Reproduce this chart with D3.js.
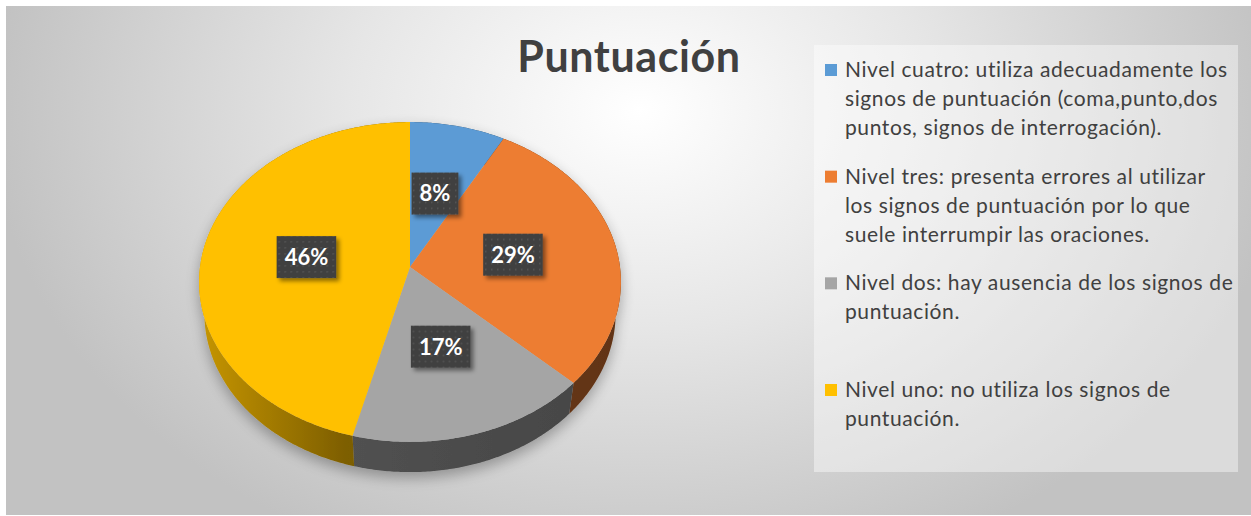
<!DOCTYPE html>
<html>
<head>
<meta charset="utf-8" />
<title>Puntuación</title>
<script src="https://cdn.jsdelivr.net/npm/d3@7/dist/d3.min.js"></script>
<style>
body { margin: 0; background: #fff; }
svg { display: block; font-family: Lato, "Noto Sans", sans-serif; }
</style>
</head>
<body>
<div id="chart"></div>
<script>
// data
const categories = ["Nivel cuatro", "Nivel tres", "Nivel dos", "Nivel uno"];
const values = [8, 29, 17, 46];
const colors = ["#5b9bd5", "#ed7d31", "#a5a5a5", "#ffc000"];
const legendLines = [
	["Nivel cuatro: utiliza adecuadamente los", "signos de puntuación (coma,punto,dos", "puntos, signos de interrogación)."],
	["Nivel tres: presenta errores al utilizar", "los signos de puntuación por lo que", "suele interrumpir las oraciones."],
	["Nivel dos: hay ausencia de los signos de", "puntuación."],
	["Nivel uno: no utiliza los signos de", "puntuación."]
];
const title = "Puntuación";

const width = 1251, height = 516;

const svg = d3.select("#chart").append("svg")
	.attr("width", width)
	.attr("height", height);

const defs = svg.append("defs");

// chart area background
const bg = defs.append("radialGradient")
	.attr("id", "bg")
	.attr("gradientUnits", "userSpaceOnUse")
	.attr("cx", 640).attr("cy", 110).attr("r", 650)
	.attr("gradientTransform", "translate(640,110) scale(1,0.75) translate(-640,-110)");
bg.append("stop").attr("offset", 0).attr("stop-color", "#ffffff");
bg.append("stop").attr("offset", 0.45).attr("stop-color", "#e6e6e6");
bg.append("stop").attr("offset", 1).attr("stop-color", "#c2c2c2");

svg.append("rect")
	.attr("x", 6).attr("y", 6)
	.attr("width", width - 6).attr("height", 509)
	.attr("fill", "url(#bg)");

// 3d pie: perspective projection of a flat disc
const cx = 410, cy = 267;
const F = 1470, D = 7.0, tilt = 49 * Math.PI / 180;
const cs = Math.cos(tilt), sn = Math.sin(tilt);
const thick = 0.237;

function project(a, r, h) {
	const X = r * Math.sin(a), Z = r * Math.cos(a);
	const depth = D + Z * cs - h * sn;
	const vert = Z * sn + h * cs;
	return [cx + F * X / depth, cy - F * vert / depth];
}

function arcPoints(a0, a1, h) {
	const n = Math.max(2, Math.ceil(Math.abs(a1 - a0) / 0.01));
	return d3.range(n + 1).map(i => project(a0 + (a1 - a0) * i / n, 1, h));
}

const arcs = d3.pie().sort(null).value(d => d)(values);
const line = d3.line();

// side gradients
const xs = d3.scaleLinear().domain([0, 1]).range([198, 622]);
colors.forEach(function(c, i) {
	const g = defs.append("linearGradient")
		.attr("id", "side" + i)
		.attr("gradientUnits", "userSpaceOnUse")
		.attr("x1", xs(0)).attr("x2", xs(1)).attr("y1", 0).attr("y2", 0);
	[[0, 0.7], [0.35, 2.0], [1, 2.5]].forEach(function(s) {
		g.append("stop").attr("offset", s[0]).attr("stop-color", d3.color(c).darker(s[1]).formatHex());
	});
});

const shadow = defs.append("filter").attr("id", "pieShadow")
	.attr("x", "-20%").attr("y", "-20%").attr("width", "140%").attr("height", "140%");
shadow.append("feGaussianBlur").attr("in", "SourceAlpha").attr("stdDeviation", 7).attr("result", "b");
shadow.append("feOffset").attr("dy", 6).attr("result", "o");
shadow.append("feComponentTransfer").append("feFuncA").attr("type", "linear").attr("slope", 0.3);
const sm = shadow.append("feMerge");
sm.append("feMergeNode");
sm.append("feMergeNode").attr("in", "SourceGraphic");

const pie = svg.append("g").attr("filter", "url(#pieShadow)");

// walls first
pie.selectAll("path.side")
	.data(arcs)
	.join("path")
	.attr("class", "side")
	.attr("fill", (d, i) => "url(#side" + i + ")")
	.attr("d", function(d) {
		const top = arcPoints(d.startAngle, d.endAngle, 0);
		const bot = arcPoints(d.endAngle, d.startAngle, -thick);
		return line(top.concat(bot)) + "Z";
	});

// top faces
pie.selectAll("path.top")
	.data(arcs)
	.join("path")
	.attr("class", "top")
	.attr("fill", (d, i) => colors[i])
	.attr("d", function(d) {
		return line([project(0, 0, 0)].concat(arcPoints(d.startAngle, d.endAngle, 0))) + "Z";
	});

// data labels
const pat = defs.append("pattern").attr("id", "dots")
	.attr("patternUnits", "userSpaceOnUse").attr("width", 6).attr("height", 6);
pat.append("rect").attr("width", 6).attr("height", 6).attr("fill", "#404040");
pat.append("rect").attr("x", 2).attr("y", 2).attr("width", 1.5).attr("height", 1.5).attr("fill", "#575757");

const lblShadow = defs.append("filter").attr("id", "lblShadow")
	.attr("x", "-30%").attr("y", "-30%").attr("width", "160%").attr("height", "160%");
lblShadow.append("feDropShadow").attr("dx", 3).attr("dy", 3).attr("stdDeviation", 2)
	.attr("flood-color", "#000").attr("flood-opacity", 0.45);

const total = d3.sum(values);
const labels = svg.append("g").selectAll("g")
	.data(arcs)
	.join("g")
	.attr("transform", function(d) {
		const p = project((d.startAngle + d.endAngle) / 2, 0.5, 0);
		return "translate(" + p[0] + "," + p[1] + ")";
	});

labels.append("text")
	.attr("text-anchor", "middle")
	.attr("dy", "0.36em")
	.attr("fill", "#fff")
	.attr("font-weight", "bold")
	.attr("font-size", 22)
	.text(d => Math.round(d.value / total * 100) + "%");

labels.each(function() {
	const g = d3.select(this);
	const bb = g.select("text").node().getBBox();
	g.insert("rect", "text")
		.attr("x", bb.x - 8).attr("y", -21)
		.attr("width", bb.width + 16).attr("height", 42)
		.attr("fill", "url(#dots)")
		.attr("filter", "url(#lblShadow)");
});

// title
svg.append("text")
	.attr("x", 629).attr("y", 72)
	.attr("text-anchor", "middle")
	.attr("font-weight", "bold")
	.attr("font-size", 43)
	.attr("letter-spacing", 0.6)
	.attr("fill", "#404040")
	.text(title);

// legend
svg.append("rect")
	.attr("x", 814).attr("y", 45)
	.attr("width", 424).attr("height", 427)
	.attr("fill", "#fff").attr("fill-opacity", 0.42);

const ly = d3.scalePoint().domain(categories).range([77, 397]);

const items = svg.append("g").selectAll("g")
	.data(categories)
	.join("g")
	.attr("transform", d => "translate(0," + ly(d) + ")");

items.append("rect")
	.attr("x", 825).attr("y", -13)
	.attr("width", 12).attr("height", 12)
	.attr("fill", (d, i) => colors[i]);

items.append("text")
	.attr("x", 845)
	.attr("font-size", 21)
	.attr("letter-spacing", 0.6)
	.attr("fill", "#404040")
	.selectAll("tspan")
	.data((d, i) => legendLines[i])
	.join("tspan")
	.attr("x", 845)
	.attr("y", (d, j) => j * 29)
	.text(d => d);
</script>
</body>
</html>
